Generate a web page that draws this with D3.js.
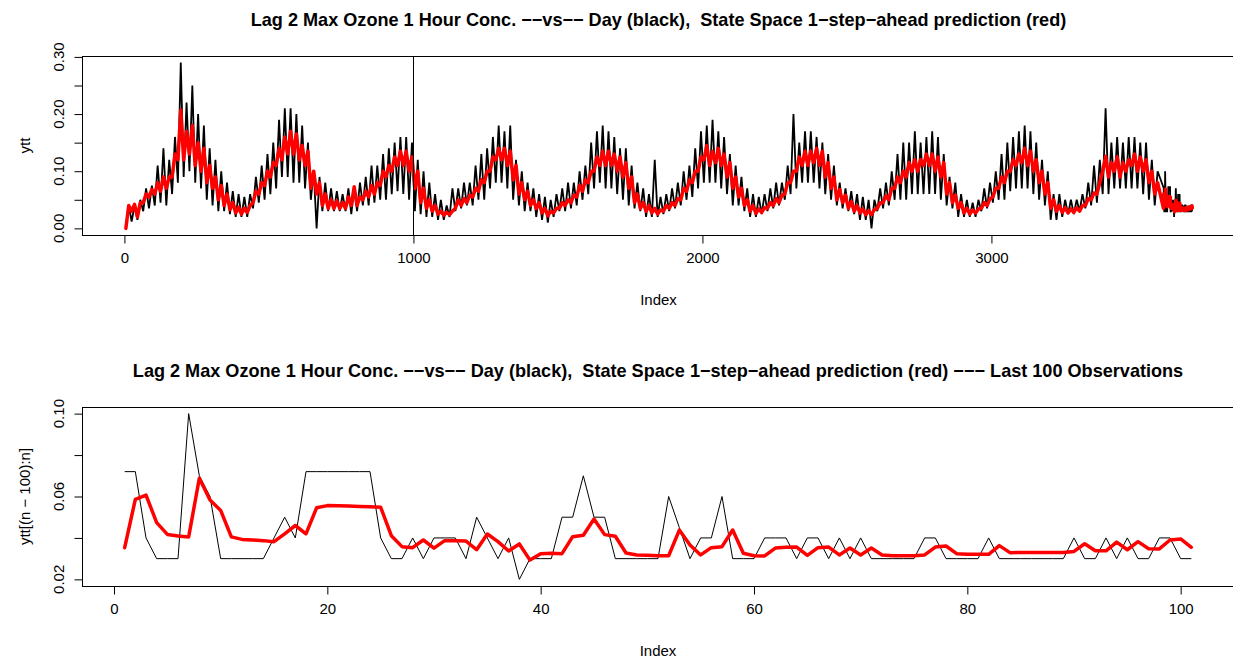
<!DOCTYPE html>
<html>
<head>
<meta charset="utf-8">
<script src="https://d3js.org/d3.v7.min.js"></script>
<style>
    body { margin: 0; background: #fff; }
    text { font-family: "Liberation Sans", Arial, sans-serif; fill: #000; white-space: pre; }
    .main { font-weight: bold; font-size: 18.1px; }
    .lab { font-size: 15px; }
</style>
</head>
<body>
<svg class="target" width="1233" height="667"></svg>
<script>

    // ---- data ----
    // full series: 3695 daily values, summarised as 20-day bins (local low / high of the black
    // series and of the red prediction); the last 101 days are read one by one from the lower panel
    const nObs = 3695;
    const binSize = 20;

    const blackHi = [
        .04, .04, .05, .07, .075, .11, .14, .12, .16, .29, .22, .25, .20, .18, .14, .12, .10, .08, .065, .06,
        .055, .06, .09, .11, .13, .15, .19, .21, .21, .20, .18, .15, .10, .09, .08, .07, .065, .06, .07, .07,
        .08, .09, .11, .11, .13, .14, .15, .16, .16, .15, .12, .10, .08, .06, .05, .04, .07, .07, .08, .08,
        .11, .13, .14, .16, .18, .17, .18, .12, .10, .08, .07, .06, .055, .05, .06, .07, .08, .08, .10, .11,
        .15, .17, .18, .17, .16, .14, .14, .11, .08, .07, .06, .12, .055, .06, .07, .08, .10, .11, .14, .17,
        .18, .19, .17, .16, .13, .11, .09, .07, .06, .055, .06, .07, .08, .08, .11, .20, .15, .17, .17, .16,
        .15, .13, .11, .08, .07, .065, .06, .055, .05, .05, .07, .08, .10, .13, .15, .15, .17, .15, .16, .17,
        .16, .13, .09, .08, .06, .05, .045, .05, .07, .08, .10, .13, .15, .16, .17, .18, .17, .15, .12, .10,
        .06, .06, .05, .05, .05, .06, .08, .11, .12, .21, .15, .16, .15, .16, .16, .15, .15, .12, .10
    ];
    const blackLo = [
        .0, .012, .015, .03, .035, .04, .045, .04, .06, .08, .09, .10, .08, .07, .05, .04, .03, .03, .025, .02,
        .02, .02, .035, .045, .05, .06, .07, .09, .09, .08, .08, .07, .05, .0, .03, .03, .03, .03, .03, .025,
        .03, .04, .04, .045, .05, .05, .06, .065, .06, .05, .03, .025, .02, .02, .015, .015, .02, .03, .035, .04,
        .04, .05, .05, .07, .08, .08, .07, .05, .04, .03, .03, .02, .015, .01, .02, .03, .03, .035, .04, .05,
        .06, .07, .08, .07, .07, .06, .05, .04, .035, .03, .02, .02, .02, .025, .03, .035, .04, .05, .055, .07,
        .08, .08, .08, .07, .06, .04, .04, .03, .02, .02, .025, .03, .035, .04, .05, .06, .07, .08, .08, .08,
        .07, .06, .05, .04, .035, .03, .025, .015, .015, .0, .03, .035, .04, .05, .05, .05, .06, .06, .06, .06,
        .06, .05, .04, .035, .02, .02, .02, .02, .03, .035, .045, .05, .05, .065, .07, .07, .07, .06, .05, .04,
        .015, .015, .02, .025, .025, .03, .035, .04, .045, .06, .06, .07, .07, .07, .07, .07, .06, .05, .04
    ];
    const redLo = [
        .0, .03, .02, .045, .055, .06, .065, .07, .09, .12, .12, .13, .11, .10, .08, .07, .05, .04, .033, .027,
        .025, .028, .045, .06, .075, .09, .11, .12, .13, .13, .12, .11, .07, .06, .04, .035, .035, .035, .035, .04,
        .04, .05, .055, .06, .075, .09, .10, .11, .11, .10, .07, .045, .035, .03, .025, .023, .024, .035, .04, .045,
        .055, .065, .08, .10, .12, .12, .11, .085, .06, .05, .04, .035, .027, .022, .027, .035, .04, .045, .055, .065,
        .08, .10, .11, .11, .11, .10, .09, .07, .045, .035, .03, .027, .025, .03, .035, .04, .05, .065, .08, .10,
        .12, .11, .115, .11, .09, .07, .055, .04, .03, .026, .028, .035, .04, .045, .06, .08, .10, .11, .11, .115,
        .11, .09, .07, .05, .045, .035, .03, .027, .024, .024, .035, .045, .05, .07, .08, .09, .10, .10, .11, .11,
        .10, .09, .06, .045, .035, .027, .025, .027, .035, .04, .055, .07, .08, .10, .11, .115, .11, .10, .08, .06,
        .035, .03, .028, .027, .028, .03, .04, .05, .06, .10, .09, .10, .09, .10, .11, .10, .10, .08, .06
    ];
    const redHi = [
        .04, .042, .045, .06, .068, .08, .09, .09, .13, .207, .17, .18, .15, .14, .11, .09, .075, .06, .045, .037,
        .035, .04, .065, .08, .10, .115, .14, .16, .17, .165, .145, .135, .10, .08, .06, .05, .048, .045, .055, .073,
        .055, .065, .075, .08, .10, .11, .125, .135, .135, .125, .10, .07, .05, .04, .03, .028, .03, .05, .052, .058,
        .07, .085, .10, .125, .14, .14, .135, .11, .08, .065, .05, .045, .035, .03, .035, .045, .05, .058, .075, .085,
        .10, .125, .135, .135, .13, .125, .115, .09, .06, .045, .04, .035, .032, .04, .045, .052, .07, .085, .10, .125,
        .145, .135, .14, .13, .115, .09, .07, .05, .04, .034, .036, .045, .052, .058, .08, .10, .125, .135, .135, .14,
        .135, .115, .09, .068, .058, .047, .04, .034, .031, .033, .045, .057, .07, .09, .10, .115, .12, .12, .13, .13,
        .125, .115, .08, .058, .045, .035, .032, .034, .045, .052, .07, .09, .10, .12, .13, .14, .135, .12, .10, .08,
        .05, .04, .036, .034, .036, .04, .052, .062, .08, .126, .115, .125, .115, .12, .13, .125, .12, .10, .08
    ];

    // last 100 observations (index 1..101 of the lower panel)
    const lastBlack = [
        .072, .072, .04, .03, .03, .03, .10, .07, .06, .03,
        .03, .03, .03, .03, .04, .05, .04, .072, .072, .072,
        .072, .072, .072, .072, .04, .03, .03, .04, .03, .04,
        .04, .04, .03, .05, .04, .03, .04, .02, .03, .03,
        .03, .05, .05, .07, .05, .05, .03, .03, .03, .03,
        .03, .06, .045, .03, .04, .04, .06, .03, .03, .03,
        .04, .04, .04, .03, .04, .04, .03, .04, .03, .04,
        .03, .03, .03, .03, .03, .04, .04, .03, .03, .03,
        .03, .04, .03, .03, .03, .03, .03, .03, .03, .04,
        .03, .03, .04, .03, .04, .03, .03, .04, .04, .03, .03
    ];
    const lastRed = [
        .0353, .0586, .0607, .0474, .0417, .0409, .0405, .0688, .0583, .0533,
        .0405, .0393, .039, .0387, .0382, .042, .046, .042, .0546, .0556,
        .0555, .0554, .0552, .055, .0548, .0411, .0358, .0353, .039, .0351,
        .0387, .0387, .0385, .0343, .0419, .0382, .0337, .0371, .0293, .0324,
        .0326, .0324, .0406, .0413, .0491, .0416, .0408, .0327, .0318, .0316,
        .0314, .0314, .0438, .0366, .0318, .0353, .0358, .0438, .0326, .0314,
        .0313, .0351, .0355, .0356, .0316, .0353, .0356, .0318, .0351, .0318,
        .0351, .0318, .0314, .0314, .0314, .0318, .0356, .0361, .0324, .0321,
        .0321, .0321, .0363, .0329, .033, .033, .033, .033, .033, .0335,
        .0372, .0338, .0338, .038, .0343, .0382, .0348, .0347, .039, .0395, .0355
    ];

    const topXTicks = [0, 1000, 2000, 3000];
    const topYTicks = [0, 0.05, 0.10, 0.15, 0.20, 0.25, 0.30];
    const topYLabels = [0, 0.10, 0.20, 0.30];
    const botXTicks = [0, 20, 40, 60, 80, 100];
    const botYTicks = [0.02, 0.04, 0.06, 0.08, 0.10];
    const botYLabels = [0.02, 0.06, 0.10];
    const markLine = 1000;

    const title1 = "Lag 2 Max Ozone 1 Hour Conc. \u2212\u2212vs\u2212\u2212 Day (black),  State Space 1\u2212step\u2212ahead prediction (red)";
    const title2 = title1 + " \u2212\u2212\u2212 Last 100 Observations";

    // ---- build the series ----
    let firstLast = nObs - 100;

    function zigzag(lo, hi) {
        let pts = [];
        lo.forEach((v, k) => {
            pts.push([k * binSize + 5, v]);
            pts.push([k * binSize + 15, hi[k]]);
        });
        return pts;
    }

    let topBlack = zigzag(blackLo, blackHi);
    lastBlack.forEach((v, j) => topBlack.push([firstLast + j, v]));

    let topRed = zigzag(redLo, redHi);
    lastRed.forEach((v, j) => topRed.push([firstLast + j, v]));

    let botBlack = lastBlack.map((v, j) => [j + 1, v]);
    let botRed = lastRed.map((v, j) => [j + 1, v]);

    let svg = d3.select(".target");

    function rRange(lo, hi) {
        let d = (hi - lo) * 0.04;
        return [lo - d, hi + d];
    }

    function panel(o) {
        let g = svg.append("g");
        let x = d3.scaleLinear().domain(rRange(o.xmin, o.xmax)).range([o.left, o.right]);
        let yExt = d3.extent(o.black.concat(o.red), d => d[1]);
        let y = d3.scaleLinear().domain(rRange(yExt[0], yExt[1])).range([o.bottom, o.top]);

        let line = d3.line().x(d => x(d[0])).y(d => y(d[1]));

        g.append("path").datum(o.black)
            .attr("d", line)
            .attr("fill", "none")
            .attr("stroke", "#000")
            .attr("stroke-width", o.blackWidth);

        g.append("path").datum(o.red)
            .attr("d", line)
            .attr("fill", "none")
            .attr("stroke", "#ff0000")
            .attr("stroke-width", 3.5)
            .attr("stroke-linejoin", "round")
            .attr("stroke-linecap", "round");

        if (o.vline !== undefined) {
            g.append("line")
                .attr("x1", Math.round(x(o.vline)) + 0.5).attr("x2", Math.round(x(o.vline)) + 0.5)
                .attr("y1", o.top).attr("y2", o.bottom)
                .attr("stroke", "#000");
        }

        // box
        g.append("rect")
            .attr("x", o.left + 0.5).attr("y", o.top + 0.5)
            .attr("width", o.right - o.left).attr("height", o.bottom - o.top)
            .attr("fill", "none").attr("stroke", "#000");

        // x axis
        let xa = g.append("g").attr("transform", "translate(0," + (o.bottom + 0.5) + ")")
            .call(d3.axisBottom(x).tickValues(o.xTicks).tickFormat(d3.format("d")).tickSize(8).tickPadding(9));
        xa.select(".domain").remove();
        xa.selectAll("text").attr("class", "lab").style("font-size", "15px").attr("fill", "#000");

        // y axis
        let ya = g.append("g").attr("transform", "translate(" + (o.left + 0.5) + ",0)")
            .call(d3.axisLeft(y).tickValues(o.yTicks).tickSize(8).tickFormat(""));
        ya.select(".domain").remove();

        g.selectAll(".ylab").data(o.yLabels).enter().append("text")
            .attr("class", "lab")
            .attr("transform", d => "translate(" + (o.left - 18) + "," + y(d) + ") rotate(-90)")
            .attr("text-anchor", "middle")
            .text(d => d3.format(".2f")(d));

        g.append("text").attr("class", "lab")
            .attr("x", (o.left + o.right) / 2).attr("y", o.bottom + 70)
            .attr("text-anchor", "middle").text("Index");

        g.append("text").attr("class", "lab")
            .attr("transform", "translate(" + (o.left - 52) + "," + (o.top + o.bottom) / 2 + ") rotate(-90)")
            .attr("text-anchor", "middle").text(o.ylab);

        g.append("text").attr("class", "main")
            .attr("x", (o.left + o.right) / 2).attr("y", o.top - 30)
            .attr("text-anchor", "middle").text(o.title);
    }

    panel({
        left: 82, right: 1235, top: 56, bottom: 235,
        xmin: 1, xmax: nObs,
        black: topBlack, red: topRed, blackWidth: 1.8,
        xTicks: topXTicks, yTicks: topYTicks, yLabels: topYLabels,
        vline: markLine, ylab: "ytt", title: title1
    });

    panel({
        left: 82, right: 1234, top: 407, bottom: 586,
        xmin: 1, xmax: botBlack.length,
        black: botBlack, red: botRed, blackWidth: 1,
        xTicks: botXTicks, yTicks: botYTicks, yLabels: botYLabels,
        ylab: "ytt[(n \u2212 100):n]", title: title2
    });

</script>
</body>
</html>
